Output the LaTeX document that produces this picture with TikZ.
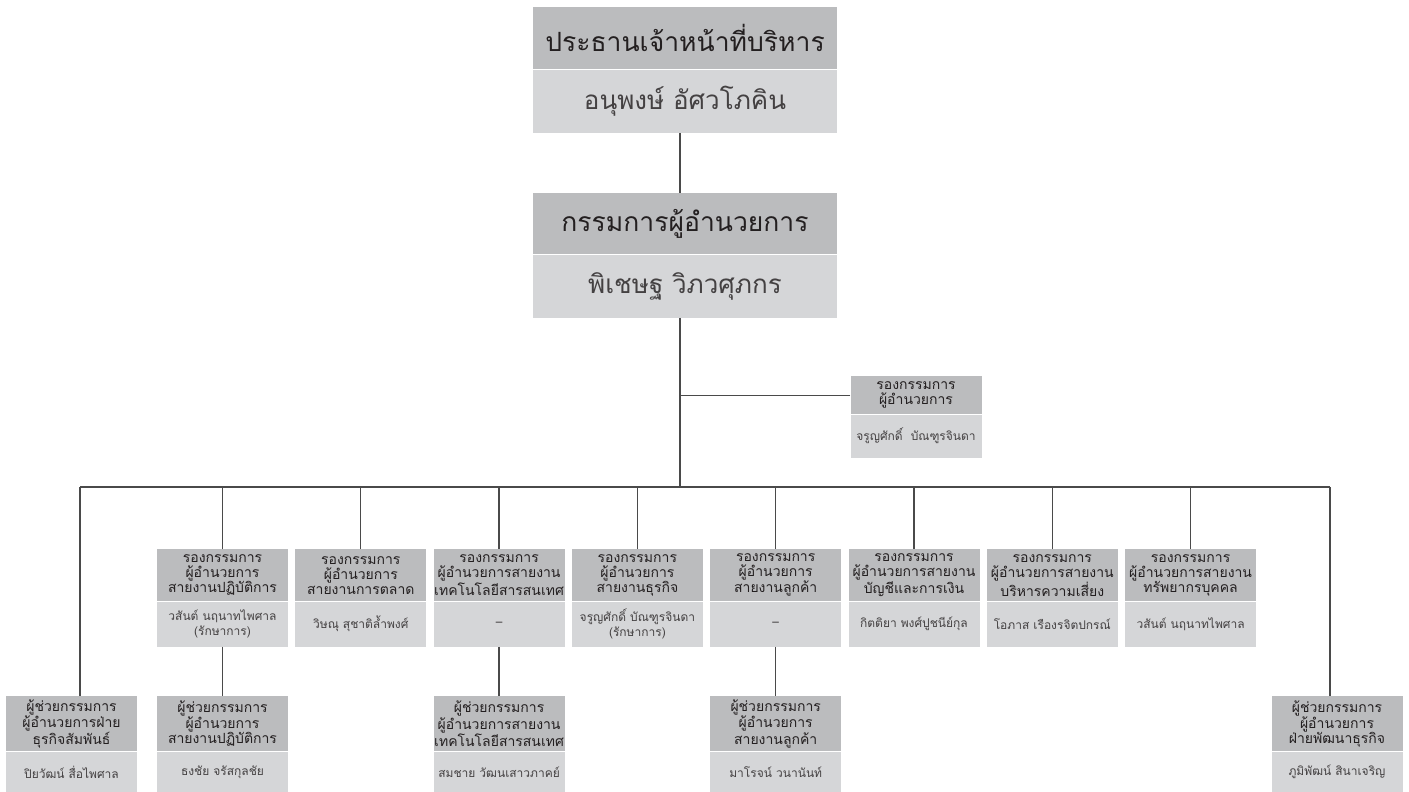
\documentclass[tikz,border=0pt]{standalone}
\usepackage{fontspec}
\newfontfamily\thai[Script=Thai]{Loma}
\definecolor{hdrc}{HTML}{BBBCBE}
\definecolor{nmc}{HTML}{D5D6D8}
\definecolor{lnc}{HTML}{4A4A4A}
\definecolor{txc}{HTML}{231F20}
\tikzset{
  hbox/.style={fill=hdrc, inner sep=0pt, anchor=north, align=center, text=txc},
  nbox/.style={fill=nmc, inner sep=0pt, anchor=north, align=center, text=txc!85},
  bigh/.style={hbox, minimum width=304pt, font=\thai\fontsize{26.5}{30}\selectfont},
  bign/.style={nbox, minimum width=304pt, font=\thai\fontsize{26}{30}\selectfont},
  smh/.style={hbox, minimum width=131pt, minimum height=52pt, font=\thai\fontsize{14}{15}\selectfont},
  smn/.style={nbox, minimum width=131pt, minimum height=45pt, font=\thai\fontsize{12}{15}\selectfont},
  boh/.style={smh, minimum height=55pt},
  bon/.style={smn, minimum height=41pt},
  conn/.style={draw=lnc, line width=1.3pt}
}
\begin{document}
\begin{tikzpicture}[x=1pt,y=-1pt]
\path[use as bounding box] (0,0) rectangle (1409,792);
% CEO
\node[bigh, minimum height=62pt] (ceoH) at (685,7) {ประธานเจ้าหน้าที่บริหาร};
\node[bign, minimum height=63pt] (ceoN) at (ceoH.south) {อนุพงษ์ อัศวโภคิน};
% MD
\node[bigh, minimum height=61pt] (mdH) at (685,193) {กรรมการผู้อำนวยการ};
\node[bign, minimum height=63pt] (mdN) at (mdH.south) {พิเชษฐ วิภวศุภกร};
% deputy (side)
\node[hbox, minimum width=131pt, minimum height=38pt, font=\thai\fontsize{14}{15}\selectfont] (depH) at (916,376) {รองกรรมการ\\ผู้อำนวยการ};
\node[nbox, minimum width=131pt, minimum height=43pt, font=\thai\fontsize{12}{15}\selectfont] (depN) at (depH.south) {จรูญศักดิ์~~บัณฑูรจินดา};
% row of deputy MDs
\node[smh] (r1H) at (222.5,549) {รองกรรมการ\\ผู้อำนวยการ\\สายงานปฏิบัติการ};
\node[smn] (r1N) at (r1H.south) {วสันต์ นฤนาทไพศาล\\(รักษาการ)};
\node[smh] (r2H) at (360.8,549) {รองกรรมการ\\ผู้อำนวยการ\\สายงานการตลาด};
\node[smn] (r2N) at (r2H.south) {วิษณุ สุชาติล้ำพงศ์};
\node[smh] (r3H) at (499.1,549) {รองกรรมการ\\ผู้อำนวยการสายงาน\\เทคโนโลยีสารสนเทศ};
\node[smn] (r3N) at (r3H.south) {–};
\node[smh] (r4H) at (637.4,549) {รองกรรมการ\\ผู้อำนวยการ\\สายงานธุรกิจ};
\node[smn] (r4N) at (r4H.south) {จรูญศักดิ์ บัณฑูรจินดา\\(รักษาการ)};
\node[smh] (r5H) at (775.7,549) {รองกรรมการ\\ผู้อำนวยการ\\สายงานลูกค้า};
\node[smn] (r5N) at (r5H.south) {–};
\node[smh] (r6H) at (914.0,549) {รองกรรมการ\\ผู้อำนวยการสายงาน\\บัญชีและการเงิน};
\node[smn] (r6N) at (r6H.south) {กิตติยา พงศ์ปูชนีย์กุล};
\node[smh] (r7H) at (1052.3,549) {รองกรรมการ\\ผู้อำนวยการสายงาน\\บริหารความเสี่ยง};
\node[smn] (r7N) at (r7H.south) {โอภาส เรืองรจิตปกรณ์};
\node[smh] (r8H) at (1190.6,549) {รองกรรมการ\\ผู้อำนวยการสายงาน\\ทรัพยากรบุคคล};
\node[smn] (r8N) at (r8H.south) {วสันต์ นฤนาทไพศาล};
% bottom row
\node[boh] (bAH) at (71.5,696) {ผู้ช่วยกรรมการ\\ผู้อำนวยการฝ่าย\\ธุรกิจสัมพันธ์};
\node[bon] (bAN) at (bAH.south) {ปิยวัฒน์ สื่อไพศาล};
\node[boh] (bBH) at (222.5,696) {ผู้ช่วยกรรมการ\\ผู้อำนวยการ\\สายงานปฏิบัติการ};
\node[bon] (bBN) at (bBH.south) {ธงชัย จรัสกุลชัย};
\node[boh] (bCH) at (499.1,696) {ผู้ช่วยกรรมการ\\ผู้อำนวยการสายงาน\\เทคโนโลยีสารสนเทศ};
\node[bon] (bCN) at (bCH.south) {สมชาย วัฒนเสาวภาคย์};
\node[boh] (bDH) at (775.7,696) {ผู้ช่วยกรรมการ\\ผู้อำนวยการ\\สายงานลูกค้า};
\node[bon] (bDN) at (bDH.south) {มาโรจน์ วนานันท์};
\node[boh] (bEH) at (1337,696) {ผู้ช่วยกรรมการ\\ผู้อำนวยการ\\ฝ่ายพัฒนาธุรกิจ};
\node[bon] (bEN) at (bEH.south) {ภูมิพัฒน์ สินาเจริญ};
% connectors
\coordinate (bus) at (680,487);
\coordinate (busL) at ([xshift=8.5pt]bAH.north |- bus);
\coordinate (busR) at ([xshift=-7pt]bEH.north |- bus);
\draw[conn] ([xshift=-5pt]ceoN.south) -- ([xshift=-5pt]mdH.north);
\draw[conn] ([xshift=-5pt]mdN.south) -- (bus);
\draw[conn] (depH.west) -- (depH.west -| bus);
\draw[conn] (busL) -- (busR);
\draw[conn] (busL) -- ([xshift=8.5pt]bAH.north);
\draw[conn] (busR) -- ([xshift=-7pt]bEH.north);
\foreach \r in {r1H,r2H,r3H,r4H,r5H,r6H,r7H,r8H}{
  \draw[conn] (\r.north) -- (\r.north |- bus);
}
\draw[conn] (r1N.south) -- (bBH.north);
\draw[conn] (r3N.south) -- (bCH.north);
\draw[conn] (r5N.south) -- (bDH.north);
\end{tikzpicture}
\end{document}
